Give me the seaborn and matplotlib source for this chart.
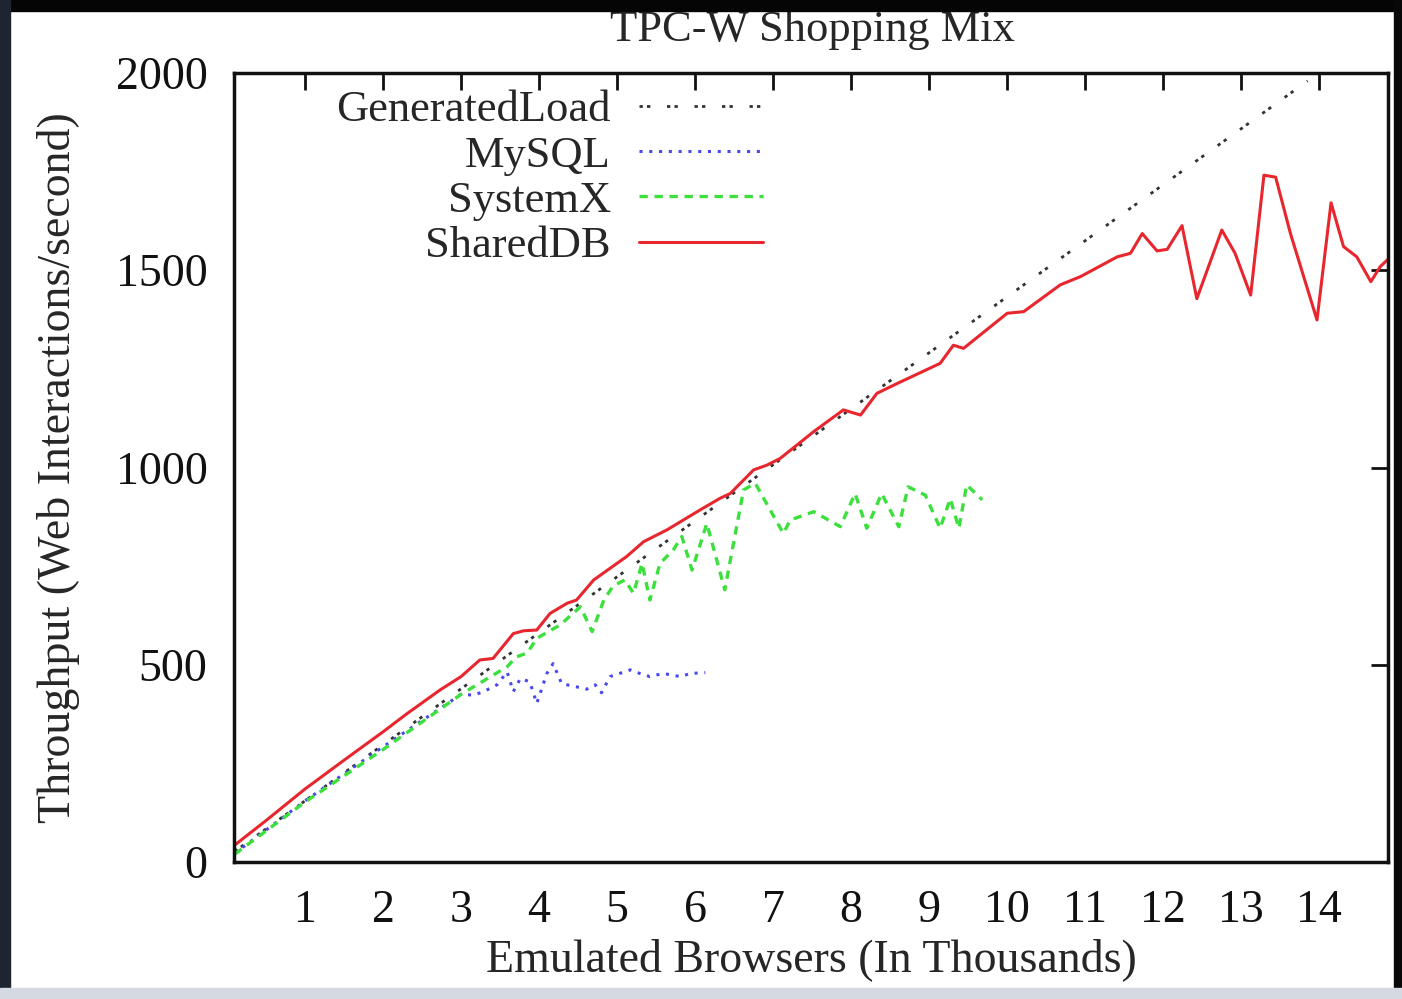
"""
TPC-W Shopping Mix: throughput vs emulated browsers
"""

import matplotlib.pyplot as plt
from matplotlib.patches import Rectangle
import seaborn as sns

# GeneratedLoad (offered load)
load_x = [0.1, 1, 2, 3, 4, 5, 6, 7, 8, 9, 10, 11, 12, 13, 13.85]
load_y = [27, 155, 297, 439, 581, 723, 865, 1007, 1149, 1291, 1433, 1575, 1717, 1859, 1980]

# MySQL
mysql_x = [0.1, 1.0, 2.0, 3.0, 3.16, 3.29, 3.46, 3.59, 3.67, 3.76, 3.88, 3.97, 4.10, 4.18,
           4.29, 4.48, 4.61, 4.72, 4.80, 4.91, 5.17, 5.29, 5.42, 5.59, 5.81, 5.94, 6.13]
mysql_y = [22, 155, 292, 425, 423, 432, 449, 482, 432, 465, 457, 402, 478, 503,
           452, 444, 438, 449, 429, 470, 487, 478, 470, 478, 470, 478, 480]

# SystemX
systemx_x = [0.1, 1.0, 2.0, 3.0, 3.59, 3.71, 3.85, 3.97, 4.27, 4.53, 4.68, 4.83, 4.95, 5.1,
             5.21, 5.32, 5.42, 5.55, 5.72, 5.83, 5.96, 6.15, 6.38, 6.62, 6.77, 7.13, 7.22,
             7.52, 7.86, 8.05, 8.20, 8.39, 8.61, 8.73, 8.95, 9.14, 9.27, 9.38, 9.48, 9.68]
systemx_y = [20, 152, 285, 425, 495, 520, 530, 567, 601, 647, 584, 664, 700, 715,
             681, 757, 664, 757, 791, 825, 740, 858, 690, 943, 960, 833, 867,
             888, 850, 934, 846, 934, 850, 951, 930, 846, 921, 846, 956, 918]

# SharedDB
shared_x = [0.1, 0.5, 1.0, 1.5, 2.0, 2.3, 2.73, 3.0, 3.24, 3.41, 3.67, 3.8, 3.97, 4.14,
            4.36, 4.48, 4.70, 5.12, 5.34, 5.64, 6.06, 6.32, 6.45, 6.75, 6.92, 7.09, 7.52,
            7.90, 8.12, 8.33, 8.59, 9.14, 9.31, 9.44, 10.0, 10.21, 10.68, 10.94, 11.41,
            11.58, 11.73, 11.92, 12.05, 12.24, 12.43, 12.75, 12.92, 13.12, 13.29, 13.44,
            13.63, 13.97, 14.15, 14.31, 14.48, 14.66, 14.78, 14.87]
shared_y = [43, 105, 185, 258, 330, 375, 436, 470, 512, 516, 579, 586, 588, 630,
            656, 664, 715, 774, 812, 842, 892, 922, 934, 994, 1006, 1023, 1091,
            1146, 1133, 1188, 1213, 1264, 1310, 1302, 1391, 1395, 1463, 1484, 1534,
            1543, 1593, 1549, 1553, 1613, 1428, 1602, 1543, 1437, 1741, 1736,
            1593, 1374, 1671, 1560, 1534, 1471, 1509, 1526]

x_ticks = list(range(1, 15))
y_ticks = [0, 500, 1000, 1500, 2000]

sns.set_style("white")
plt.rcParams['font.family'] = ['Liberation Serif', 'DejaVu Serif']

W, H = 1402, 999
fig = plt.figure(figsize=(W / 100, H / 100), dpi=100)
ax = fig.add_axes([234 / W, 1 - 862 / H, (1388 - 234) / W, (862 - 73) / H])

sns.lineplot(x=load_x, y=load_y, ax=ax, color='#333333', lw=2.0,
             linestyle=(0, (1.2, 1.5, 1.2, 6)), label='GeneratedLoad')
sns.lineplot(x=mysql_x, y=mysql_y, ax=ax, color='#4848ec', lw=2.2,
             linestyle=(0, (1, 2.2)), label='MySQL')
sns.lineplot(x=systemx_x, y=systemx_y, ax=ax, color='#3ce03c', lw=2.4,
             linestyle=(0, (2.5, 2)), label='SystemX')
sns.lineplot(x=shared_x, y=shared_y, ax=ax, color='#e8262e', lw=2.2,
             label='SharedDB')

ax.set_xlim(0.09, 14.88)
ax.set_ylim(0, 2000)
ax.set_xticks(x_ticks)
ax.set_yticks(y_ticks)
ax.tick_params(axis='both', which='major', direction='in', length=12, width=2,
               top=True, right=True, labelsize=33, colors='#111111')
ax.tick_params(axis='x', pad=20)
ax.tick_params(axis='y', pad=19)
for sp in ax.spines.values():
    sp.set_linewidth(2.5)
    sp.set_color('#111111')

ax.set_xlabel('Emulated Browsers (In Thousands)', fontsize=33, labelpad=4)
ax.set_ylabel('Throughput (Web Interactions/second)', fontsize=33, labelpad=26)

leg = ax.legend(loc='upper right', bbox_to_anchor=(763 / W, 1 - 90 / H),
                bbox_transform=fig.transFigure, frameon=False, fontsize=32,
                markerfirst=False, handlelength=2.8, handletextpad=0.62,
                labelspacing=0.12, borderpad=0, borderaxespad=0)

fig.text(812 / W, 1 - 41 / H, 'TPC-W Shopping Mix', fontsize=32,
         ha='center', va='baseline')

# screenshot frame
fig.patches.append(Rectangle((0, 1 - 11 / H), 1, 11 / H, transform=fig.transFigure,
                             color='#050505', zorder=10))
fig.patches.append(Rectangle((0, 0), 10 / W, 1, transform=fig.transFigure,
                             color='#1c2530', zorder=10))
fig.patches.append(Rectangle((1 - 8 / W, 0), 8 / W, 1, transform=fig.transFigure,
                             color='#080808', zorder=10))
fig.patches.append(Rectangle((0, 0), 1, 11 / H, transform=fig.transFigure,
                             color='#d5dae2', zorder=10))

fig.savefig('out.png', dpi=100)
